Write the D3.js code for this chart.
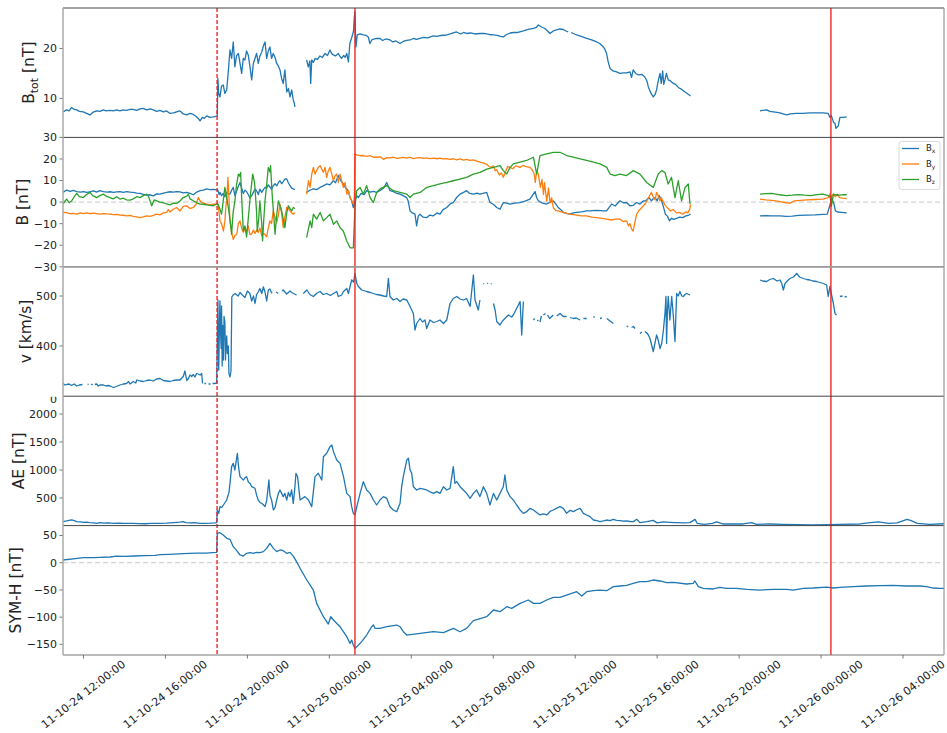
<!DOCTYPE html>
<html>
<head>
<meta charset="utf-8">
<script src="https://cdn.jsdelivr.net/npm/d3@7"></script>
<style>
  body { margin: 0; background: #fff; }
  text { font-family: "DejaVu Sans", sans-serif; fill: #222; }
</style>
</head>
<body>
<svg id="chart" width="947" height="733"></svg>
<script>
// Solar wind and geomagnetic indices, 2011-10-24 11:00 UT to 2011-10-26 06:00 UT.
// Times are hours since 2011-10-24 00:00 UT; null marks a data gap.

const btot = [[11.00,7.3],[11.18,7.7],[11.30,7.5],[11.42,8.2],[11.55,7.8],[11.67,7.7],[11.80,7.4],[11.99,7.3],[12.15,7.0],[12.32,6.7],[12.45,7.2],[12.64,7.5],[12.80,7.4],[12.97,7.7],[13.10,7.5],[13.29,7.6],[13.46,7.5],[13.60,7.7],[13.78,7.5],[13.94,7.7],[14.10,7.6],[14.27,7.8],[14.43,7.8],[14.60,7.6],[14.76,7.9],[14.92,8.0],[15.08,7.7],[15.25,7.9],[15.41,7.7],[15.57,7.4],[15.73,7.6],[15.90,7.3],[16.06,7.5],[16.22,7.0],[16.38,7.1],[16.55,7.3],[16.71,7.5],[16.87,6.9],[17.04,6.7],[17.20,7.0],[17.36,6.8],[17.50,6.4],[17.60,6.0],[17.69,5.5],[17.80,6.2],[17.90,6.0],[18.01,6.5],[18.17,6.2],[18.34,6.3],[18.45,6.4],[18.53,6.5],
  [18.56,14.0],[18.60,11.0],[18.66,10.3],[18.74,12.5],[18.82,12.7],[18.90,11.0],[18.99,11.7],[19.07,15.5],[19.15,19.7],[19.23,18.0],[19.31,21.3],[19.39,16.3],[19.47,18.5],[19.56,19.0],[19.64,17.0],[19.72,15.0],[19.80,18.0],[19.88,17.7],[19.96,19.5],[20.04,18.7],[20.12,16.5],[20.21,13.7],[20.29,17.0],[20.37,18.0],[20.45,19.0],[20.53,17.0],[20.61,18.5],[20.70,19.3],[20.78,20.5],[20.86,21.3],[20.94,18.0],[21.02,19.5],[21.10,20.3],[21.18,18.0],[21.26,19.0],[21.35,18.2],[21.43,17.0],[21.51,16.5],[21.59,15.7],[21.67,14.0],[21.75,13.0],[21.83,15.7],[21.92,11.3],[22.00,12.0],[22.08,10.3],[22.16,11.7],[22.24,9.7],[22.28,9.2],[22.32,8.3],[22.34,null],
  [22.89,17.7],[22.97,16.3],[23.05,17.5],[23.09,13.0],[23.14,17.7],[23.22,17.2],[23.30,18.0],[23.42,17.8],[23.54,18.5],[23.66,18.2],[23.79,19.0],[23.91,18.6],[24.03,19.7],[24.11,19.0],[24.19,18.7],[24.30,18.5],[24.44,19.0],[24.52,18.4],[24.60,18.0],[24.70,18.6],[24.77,18.2],[24.85,19.0],[24.93,17.3],[25.00,21.0],[25.10,22.3],[25.18,23.5],[25.22,26.3],[25.25,27.3],[25.28,22.0],[25.30,20.3],[25.36,22.7],[25.50,22.9],[25.66,22.7],[25.80,22.6],[25.90,22.3],[25.98,21.0],[26.07,21.7],[26.20,21.9],[26.31,22.0],[26.47,22.0],[26.60,21.6],[26.75,21.9],[26.96,21.7],[27.10,21.3],[27.25,21.5],[27.45,21.0],[27.60,21.4],[27.77,21.6],[27.94,21.7],[28.10,22.0],[28.25,21.8],[28.42,22.0],[28.60,22.2],[28.80,22.1],[29.07,22.5],[29.25,22.4],[29.45,22.6],[29.72,22.7],[29.90,22.9],[30.05,23.1],[30.21,23.3],[30.40,22.9],[30.55,23.2],[30.70,23.0],[30.90,23.1],[31.10,22.9],[31.35,23.0],[31.55,23.0],[31.80,22.8],[32.00,22.7],[32.20,22.6],[32.35,22.4],[32.49,22.3],[32.65,22.8],[32.82,23.1],[33.00,23.2],[33.20,23.2],[33.47,23.5],[33.70,23.8],[33.96,24.0],[34.10,24.2],[34.20,24.7],[34.35,24.3],[34.52,24.0],[34.65,23.5],[34.77,23.0],[34.93,23.5],[35.09,23.7],[35.25,23.9],[35.42,23.8],[35.55,23.5],[35.66,23.3],[35.72,null],
  [35.80,23.2],[36.07,22.7],[36.30,22.4],[36.56,22.0],[36.80,21.7],[37.05,21.3],[37.20,21.0],[37.37,20.3],[37.45,19.8],[37.53,19.0],[37.60,17.5],[37.70,16.0],[37.85,15.5],[38.02,15.3],[38.18,15.0],[38.35,15.1],[38.51,15.1],[38.67,15.3],[38.75,14.2],[38.83,15.7],[38.95,15.0],[39.08,14.7],[39.25,14.8],[39.40,14.3],[39.50,13.5],[39.57,12.3],[39.70,11.0],[39.81,10.3],[39.90,10.8],[39.97,11.7],[40.05,13.5],[40.14,15.0],[40.20,13.0],[40.27,15.5],[40.32,12.8],[40.38,13.7],[40.45,15.0],[40.54,13.7],[40.65,13.5],[40.79,13.0],[40.90,12.8],[41.03,12.2],[41.20,11.8],[41.36,11.3],[41.50,10.9],[41.63,10.5],[41.65,null],
  [45.02,7.5],[45.15,7.6],[45.34,7.7],[45.50,7.4],[45.67,7.3],[45.85,7.2],[45.99,7.1],[46.15,6.9],[46.32,6.7],[46.50,6.9],[46.81,7.0],[47.10,7.0],[47.46,7.1],[47.80,7.1],[48.11,7.1],[48.35,7.0],[48.43,6.2],[48.50,6.6],[48.60,5.3],[48.68,5.0],[48.73,4.0],[48.84,4.5],[48.92,6.2],[49.09,6.2],[49.25,6.3]];

const bx = [[11.00,4.5],[11.18,5.6],[11.35,5.0],[11.50,5.4],[11.67,4.9],[11.85,4.6],[12.00,4.9],[12.16,4.5],[12.35,4.8],[12.50,5.2],[12.64,4.6],[12.80,5.3],[12.97,4.9],[13.15,4.6],[13.30,4.8],[13.46,4.5],[13.62,4.7],[13.78,4.9],[13.95,4.5],[14.11,4.9],[14.27,4.6],[14.43,4.5],[14.60,4.2],[14.76,4.0],[14.92,3.6],[15.08,3.2],[15.25,3.4],[15.41,2.9],[15.57,3.8],[15.73,3.7],[15.90,4.2],[16.06,4.5],[16.22,4.8],[16.38,4.6],[16.55,4.9],[16.71,4.7],[16.87,4.3],[17.04,4.5],[17.20,4.0],[17.36,3.4],[17.50,4.5],[17.69,5.3],[17.85,5.6],[18.01,6.1],[18.17,5.8],[18.34,5.9],[18.50,5.7],
  [18.56,5.5],[18.62,3.5],[18.66,4.5],[18.74,3.0],[18.82,4.0],[18.90,2.5],[18.99,4.5],[19.07,3.7],[19.15,3.7],[19.23,5.5],[19.31,6.8],[19.39,3.0],[19.47,5.0],[19.56,7.5],[19.64,9.1],[19.72,6.5],[19.80,4.0],[19.88,5.5],[19.96,4.9],[20.04,3.5],[20.12,2.0],[20.21,2.9],[20.29,4.5],[20.37,6.0],[20.45,5.3],[20.53,3.5],[20.61,6.0],[20.70,4.5],[20.78,5.8],[20.86,6.8],[20.94,6.5],[21.02,8.0],[21.10,7.0],[21.18,6.0],[21.26,7.6],[21.35,8.5],[21.43,7.5],[21.51,9.0],[21.59,9.9],[21.67,8.5],[21.75,9.5],[21.83,10.7],[21.92,10.7],[22.00,9.0],[22.08,7.6],[22.16,6.5],[22.24,6.1],[22.32,5.8],[22.34,null],
  [22.89,4.5],[23.05,5.5],[23.22,6.1],[23.38,5.8],[23.54,6.8],[23.70,7.5],[23.87,8.4],[24.03,8.0],[24.19,9.9],[24.30,9.0],[24.44,12.3],[24.56,10.0],[24.68,8.4],[24.80,6.5],[24.93,5.3],[25.01,2.0],[25.09,0.6],[25.17,-2.5],[25.25,0.6],[25.33,3.0],[25.41,2.1],[25.55,4.0],[25.70,3.5],[25.82,5.3],[26.00,4.6],[26.15,5.0],[26.31,4.5],[26.50,5.5],[26.65,6.5],[26.80,9.1],[26.96,5.3],[27.10,5.0],[27.25,4.2],[27.45,3.7],[27.60,3.0],[27.77,2.1],[27.85,0.5],[27.94,-4.1],[28.05,-5.0],[28.18,-5.6],[28.26,-11.0],[28.34,-6.5],[28.42,-5.6],[28.58,-7.0],[28.75,-7.2],[28.90,-6.0],[29.07,-6.4],[29.25,-5.0],[29.40,-5.6],[29.55,-3.5],[29.73,-2.5],[29.90,-0.8],[30.05,-0.2],[30.20,2.0],[30.38,3.7],[30.55,4.5],[30.70,5.3],[30.85,4.0],[31.03,3.7],[31.20,4.2],[31.35,3.7],[31.50,4.0],[31.68,4.5],[31.84,-0.2],[32.00,-1.0],[32.17,-2.5],[32.33,-3.3],[32.49,-0.2],[32.65,-0.5],[32.82,-0.9],[33.05,-0.5],[33.30,-0.2],[33.55,0.5],[33.79,1.4],[34.04,4.9],[34.12,2.0],[34.20,0.6],[34.40,-0.5],[34.61,-0.9],[34.77,0.0],[34.93,0.6],[35.05,-0.8],[35.17,-2.5],[35.30,-3.5],[35.42,-4.8],[35.58,-5.2],[35.74,-5.6],[35.90,-5.0],[36.07,-4.8],[36.30,-4.5],[36.56,-4.1],[36.80,-4.0],[37.05,-3.8],[37.30,-4.0],[37.53,-4.1],[37.78,-0.9],[37.95,-1.8],[38.18,0.6],[38.35,-0.3],[38.51,-0.2],[38.67,-1.7],[38.83,-1.5],[39.00,-0.2],[39.16,-0.9],[39.32,0.5],[39.45,0.6],[39.60,2.1],[39.72,0.6],[39.80,1.5],[39.90,2.1],[40.00,0.6],[40.10,3.0],[40.20,1.0],[40.30,-2.0],[40.40,-5.6],[40.50,-6.5],[40.60,-8.7],[40.70,-7.5],[40.79,-8.0],[40.95,-7.5],[41.10,-7.0],[41.25,-7.2],[41.40,-6.4],[41.55,-6.0],[41.63,-5.6],[41.65,null],
  [45.02,-6.4],[45.30,-6.3],[45.60,-6.4],[45.99,-6.4],[46.30,-6.6],[46.60,-6.5],[46.90,-6.2],[47.30,-6.0],[47.70,-5.9],[48.10,-5.7],[48.30,-5.6],[48.45,-0.9],[48.50,2.1],[48.55,1.0],[48.62,-0.5],[48.70,-4.1],[48.80,-4.6],[49.00,-4.8],[49.25,-5.0]];

const by = [[11.00,-4.8],[11.18,-4.9],[11.35,-5.4],[11.50,-5.2],[11.67,-5.6],[11.85,-5.0],[12.00,-5.3],[12.16,-5.0],[12.32,-5.4],[12.50,-5.1],[12.64,-5.3],[12.80,-5.6],[12.97,-5.3],[13.15,-5.5],[13.29,-5.6],[13.46,-5.8],[13.62,-5.7],[13.78,-6.0],[13.94,-6.1],[14.11,-6.4],[14.27,-6.2],[14.43,-6.6],[14.60,-6.9],[14.76,-7.2],[14.92,-6.9],[15.08,-6.4],[15.25,-6.6],[15.41,-6.2],[15.57,-5.6],[15.73,-5.9],[15.90,-5.0],[16.06,-4.8],[16.14,-3.5],[16.22,-4.6],[16.38,-3.3],[16.55,-2.5],[16.71,-4.1],[16.87,-2.0],[17.04,-1.7],[17.20,-3.0],[17.36,-2.5],[17.50,-1.0],[17.60,2.1],[17.70,0.5],[17.77,-0.2],[17.90,-0.5],[18.01,-0.9],[18.17,-1.3],[18.34,-1.0],[18.50,-0.9],
  [18.56,-0.9],[18.62,-5.0],[18.66,-8.7],[18.74,-10.0],[18.83,-13.4],[18.90,-9.0],[18.95,-2.0],[18.99,0.6],[19.05,11.5],[19.10,2.0],[19.15,-8.7],[19.23,-14.0],[19.31,-17.3],[19.39,-15.5],[19.48,-14.9],[19.56,-10.0],[19.64,-8.7],[19.72,-12.0],[19.80,-14.0],[19.88,-12.5],[19.96,-13.4],[20.04,-11.0],[20.12,-15.0],[20.20,-14.9],[20.29,-13.0],[20.37,-14.5],[20.45,-13.0],[20.53,-14.0],[20.61,-12.0],[20.70,-15.5],[20.78,-14.5],[20.86,-15.0],[20.94,-16.1],[21.02,-12.0],[21.10,-8.7],[21.18,-10.0],[21.26,-4.1],[21.35,-7.0],[21.43,-9.5],[21.51,-6.0],[21.59,-0.9],[21.67,-5.0],[21.75,-11.8],[21.83,-7.0],[21.92,-2.5],[22.00,-3.0],[22.08,-4.1],[22.16,-5.0],[22.24,-5.6],[22.32,-5.0],[22.34,null],
  [22.89,3.7],[22.98,9.9],[23.06,6.8],[23.14,13.0],[23.22,16.1],[23.30,13.0],[23.38,14.6],[23.46,16.1],[23.55,16.9],[23.63,15.3],[23.71,13.8],[23.79,16.1],[23.87,11.5],[23.95,14.6],[24.03,16.1],[24.12,13.0],[24.20,9.9],[24.28,12.3],[24.36,13.0],[24.44,9.1],[24.52,13.0],[24.60,9.9],[24.68,6.8],[24.77,9.1],[24.85,3.7],[24.93,5.3],[25.01,2.1],[25.09,0.6],[25.17,-0.9],[25.22,2.1],[25.25,22.4],
  [25.35,21.8],[25.50,21.5],[25.66,21.6],[25.82,21.2],[26.00,21.5],[26.15,20.8],[26.31,20.8],[26.50,21.0],[26.65,19.8],[26.80,20.6],[26.96,20.5],[27.15,20.8],[27.30,20.3],[27.45,20.5],[27.60,20.7],[27.77,20.4],[27.94,20.8],[28.10,20.2],[28.26,20.5],[28.42,20.6],[28.60,20.3],[28.75,20.5],[28.90,20.2],[29.07,20.4],[29.25,20.1],[29.40,20.4],[29.55,20.0],[29.73,20.2],[29.90,19.8],[30.05,20.1],[30.21,19.6],[30.38,20.0],[30.55,19.5],[30.70,19.8],[30.85,19.3],[31.03,19.6],[31.20,19.0],[31.35,18.5],[31.50,18.2],[31.68,17.5],[31.80,16.5],[31.90,16.1],[32.00,16.8],[32.10,14.5],[32.17,15.0],[32.30,12.5],[32.40,13.5],[32.49,11.5],[32.60,14.0],[32.70,16.5],[32.82,16.1],[32.95,15.5],[33.10,16.8],[33.30,16.1],[33.45,17.0],[33.60,16.5],[33.79,16.1],[33.90,15.0],[34.00,13.0],[34.05,9.1],[34.12,14.5],[34.20,13.0],[34.30,6.8],[34.38,10.5],[34.45,3.5],[34.50,9.0],[34.61,0.6],[34.70,6.5],[34.77,-0.5],[34.85,2.0],[34.93,-2.5],[35.05,-4.0],[35.17,-4.1],[35.30,-4.5],[35.42,-4.8],[35.58,-5.2],[35.74,-5.6],[35.90,-5.8],[36.07,-6.0],[36.30,-6.4],[36.56,-6.4],[36.80,-7.0],[37.05,-7.2],[37.30,-7.5],[37.53,-7.9],[37.78,-8.3],[37.95,-7.9],[38.18,-7.9],[38.35,-9.0],[38.51,-8.7],[38.60,-11.0],[38.67,-10.0],[38.75,-12.5],[38.83,-13.4],[38.90,-10.0],[39.00,-5.6],[39.10,-4.0],[39.25,-2.5],[39.40,-1.0],[39.50,0.6],[39.60,2.5],[39.72,4.5],[39.80,2.5],[39.90,1.0],[39.97,4.5],[40.05,3.0],[40.14,0.6],[40.20,2.1],[40.30,0.0],[40.40,-1.5],[40.54,-3.0],[40.65,-4.1],[40.79,-3.5],[40.95,-5.0],[41.10,-4.8],[41.25,-5.6],[41.40,-4.5],[41.50,-5.0],[41.60,-3.0],[41.63,-1.0],[41.65,null],
  [45.02,1.4],[45.30,1.0],[45.60,0.8],[45.99,0.2],[46.30,-0.3],[46.50,-0.5],[46.70,0.6],[47.00,0.8],[47.30,1.0],[47.70,1.2],[48.10,1.4],[48.35,2.1],[48.43,3.7],[48.50,2.1],[48.60,3.7],[48.70,2.5],[48.80,3.7],[48.90,2.1],[49.05,1.8],[49.25,1.6]];

const bz = [[11.00,-0.9],[11.10,0.5],[11.18,1.4],[11.30,-0.3],[11.42,0.5],[11.55,2.5],[11.67,4.0],[11.80,2.5],[11.99,2.1],[12.15,3.5],[12.32,4.5],[12.45,3.0],[12.64,2.1],[12.80,3.0],[12.97,3.7],[13.10,2.8],[13.29,2.1],[13.45,1.5],[13.62,2.5],[13.78,1.4],[13.94,1.8],[14.10,1.0],[14.27,0.9],[14.43,1.5],[14.60,2.5],[14.76,2.1],[14.92,3.0],[15.08,3.7],[15.18,2.5],[15.33,-1.7],[15.45,1.0],[15.57,0.6],[15.73,0.0],[15.90,-0.3],[16.06,-0.8],[16.22,-1.3],[16.38,-0.5],[16.55,-0.6],[16.71,0.5],[16.87,2.1],[17.04,2.8],[17.12,3.7],[17.20,1.5],[17.36,0.6],[17.52,-0.2],[17.69,-0.9],[17.85,-1.0],[18.01,-1.3],[18.17,-1.5],[18.34,-1.7],[18.50,-0.9],
  [18.56,-0.9],[18.65,-3.0],[18.74,-5.6],[18.82,0.5],[18.90,6.8],[18.99,2.0],[19.07,-2.5],[19.15,-8.0],[19.23,-14.9],[19.30,-5.0],[19.39,0.6],[19.47,8.0],[19.56,13.0],[19.63,12.0],[19.67,13.8],[19.72,2.0],[19.80,-13.4],[19.88,-11.0],[19.96,-16.1],[20.04,-8.0],[20.12,0.6],[20.20,8.0],[20.26,13.0],[20.33,10.0],[20.37,6.8],[20.45,-5.0],[20.48,-13.4],[20.55,-8.0],[20.61,0.6],[20.70,-10.0],[20.74,-18.0],[20.80,-8.0],[20.86,0.6],[20.94,8.0],[21.02,16.1],[21.10,14.0],[21.13,16.9],[21.20,5.0],[21.23,0.6],[21.30,-8.0],[21.35,-14.9],[21.43,-6.0],[21.51,0.6],[21.60,-2.0],[21.67,-4.1],[21.75,-8.0],[21.83,-11.8],[21.92,-5.0],[22.00,-1.7],[22.08,-3.0],[22.16,-4.1],[22.24,-2.5],[22.32,-3.0],[22.34,null],
  [22.89,-16.5],[23.06,-8.7],[23.14,-11.8],[23.22,-5.6],[23.38,-7.9],[23.55,-4.8],[23.71,-8.7],[23.87,-7.2],[24.03,-5.6],[24.20,-10.3],[24.36,-8.7],[24.52,-11.8],[24.68,-13.4],[24.85,-18.0],[25.01,-21.2],[25.17,-21.2],[25.25,-2.5],
  [25.33,5.3],[25.50,6.8],[25.66,3.7],[25.82,7.6],[25.99,2.1],[26.15,-0.2],[26.31,4.5],[26.47,6.1],[26.80,7.6],[27.12,5.3],[27.45,4.5],[27.78,3.7],[27.94,2.1],[28.10,3.7],[28.43,4.5],[28.75,6.8],[29.08,7.6],[29.40,8.4],[29.73,9.1],[30.05,9.9],[30.38,10.7],[30.70,11.5],[31.03,13.0],[31.36,13.8],[31.68,15.3],[32.01,16.1],[32.33,16.9],[32.49,14.6],[32.66,13.0],[32.82,16.1],[32.98,17.7],[33.31,18.5],[33.63,19.3],[33.96,20.8],[34.12,13.0],[34.28,21.6],[34.61,22.4],[34.93,23.1],[35.26,23.1],[35.58,21.6],[35.91,20.8],[36.24,20.0],[36.56,19.3],[36.89,18.5],[37.21,17.7],[37.54,16.1],[37.70,13.0],[37.94,12.3],
  [38.18,13.0],[38.51,12.3],[38.83,14.6],[39.16,13.0],[39.49,9.1],[39.81,6.8],[40.05,13.0],[40.22,14.6],[40.38,13.8],[40.54,8.4],[40.70,11.5],[40.87,2.1],[41.03,9.9],[41.19,0.6],[41.36,6.8],[41.52,8.4],[41.60,-0.9],[41.65,null],
  [45.02,3.7],[45.30,3.9],[45.60,4.0],[45.99,3.4],[46.30,3.0],[46.60,3.2],[46.90,3.5],[47.20,3.2],[47.50,3.0],[47.80,3.5],[48.10,3.7],[48.35,3.0],[48.45,2.1],[48.50,-2.0],[48.55,0.6],[48.60,3.7],[48.70,3.4],[48.90,3.2],[49.10,3.5],[49.25,3.4]];

const speed = [[11.00,325],[11.10,322],[11.18,323],[11.30,324],[11.42,321],[11.55,324],[11.67,320],[11.80,322],[11.95,323],[11.97,null],
  [12.20,324],[12.25,323],[12.26,null],[12.37,324],[12.45,322],[12.46,null],[12.55,323],[12.64,324],[12.72,320],[12.80,322],[12.97,322],[13.10,320],[13.20,321],[13.30,320],[13.46,317],[13.60,319],[13.78,322],[13.94,324],[14.10,325],[14.20,329],[14.27,324],[14.43,329],[14.55,326],[14.60,332],[14.76,330],[14.92,329],[15.08,331],[15.25,332],[15.41,330],[15.57,334],[15.73,335],[15.90,331],[16.06,330],[16.22,329],[16.38,331],[16.55,332],[16.71,332],[16.80,336],[16.87,339],[16.95,350],[17.04,331],[17.12,335],[17.20,342],[17.28,339],[17.36,343],[17.44,338],[17.52,345],[17.60,344],[17.69,342],[17.77,345],[17.81,325],[17.83,null],
  [17.90,325],[17.98,325],[17.99,null],[18.10,324],[18.20,324],[18.21,null],[18.30,325],[18.40,325],[18.50,326],
  [18.56,492],[18.60,352],[18.64,450],[18.66,490],[18.69,428],[18.72,395],[18.74,480],[18.77,360],[18.79,441],[18.83,372],[18.86,459],[18.90,448],[18.93,372],[18.96,410],[18.99,420],[19.02,385],[19.07,400],[19.10,345],[19.15,338],[19.20,350],[19.24,498],[19.30,502],[19.40,505],[19.55,500],[19.64,507],[19.75,502],[19.88,497],[20.00,510],[20.12,505],[20.21,490],[20.30,500],[20.37,485],[20.45,503],[20.53,508],[20.61,515],[20.70,505],[20.78,518],[20.86,508],[20.94,490],[21.02,512],[21.10,514],[21.20,505],[21.28,null],
  [21.40,508],[21.50,505],[21.51,null],[21.70,510],[21.75,512],[21.83,508],[21.92,504],[22.00,507],[22.08,510],[22.20,506],[22.30,504],[22.40,502],[22.50,null],
  [22.73,505],[22.90,512],[23.05,503],[23.22,499],[23.40,506],[23.55,509],[23.70,503],[23.87,505],[24.05,501],[24.20,505],[24.36,509],[24.44,499],[24.60,502],[24.69,509],[24.85,515],[24.93,505],[25.01,519],[25.09,532],[25.18,528],[25.25,545],[25.34,525],[25.42,519],[25.58,512],[25.82,509],[26.00,507],[26.15,505],[26.30,503],[26.47,502],[26.65,500],[26.80,499],[26.88,535],[26.96,499],[27.12,492],[27.29,495],[27.45,489],[27.60,494],[27.78,492],[27.94,479],[28.10,465],[28.18,432],[28.26,445],[28.43,455],[28.55,448],[28.67,452],[28.75,435],[28.91,452],[29.08,447],[29.24,449],[29.40,452],[29.57,445],[29.73,452],[29.89,485],[30.05,495],[30.22,499],[30.38,494],[30.54,492],[30.70,495],[30.87,479],[31.03,542],[31.11,492],[31.27,472],[31.35,492],[31.40,null],
  [31.52,525],[31.55,524],[31.56,null],[31.70,526],[31.75,525],[31.76,null],[31.88,525],[31.92,524],[31.93,null],
  [32.01,485],[32.09,472],[32.17,449],[32.33,442],[32.45,450],[32.57,455],[32.74,462],[32.90,458],[32.98,462],[33.14,475],[33.31,489],[33.39,422],[33.47,489],[33.50,null],
  [33.96,452],[34.02,455],[34.03,null],[34.15,450],[34.20,452],[34.21,null],[34.28,448],[34.35,460],[34.36,null],[34.45,462],[34.55,465],[34.56,null],[34.65,462],[34.75,455],[34.93,462],[34.94,null],[35.10,460],[35.26,465],[35.42,459],[35.58,459],[35.59,null],[35.75,457],[35.91,455],[36.05,456],[36.24,452],[36.25,null],[36.40,455],[36.56,455],[36.70,null],[36.89,459],[36.95,457],[36.96,null],[37.21,455],[37.30,456],[37.31,null],[37.54,455],[37.70,450],[37.86,445],[37.90,null],
  [38.51,439],[38.59,439],[38.60,null],[38.75,437],[38.84,439],[38.92,435],[38.93,null],[39.16,425],[39.25,428],[39.26,null],[39.40,429],[39.50,426],[39.57,422],[39.65,415],[39.73,402],[39.81,389],[39.89,405],[39.97,422],[40.05,412],[40.14,395],[40.22,405],[40.30,430],[40.38,465],[40.43,499],[40.46,405],[40.50,470],[40.54,499],[40.62,452],[40.71,499],[40.79,459],[40.87,409],[40.95,505],[41.03,500],[41.11,509],[41.20,500],[41.28,499],[41.36,503],[41.44,505],[41.60,502],[41.65,null],
  [45.02,532],[45.15,530],[45.34,529],[45.50,533],[45.67,535],[45.85,530],[45.99,532],[46.08,525],[46.16,512],[46.24,525],[46.35,530],[46.48,535],[46.65,538],[46.81,545],[46.95,538],[47.13,535],[47.30,533],[47.46,532],[47.60,530],[47.78,529],[47.95,527],[48.11,525],[48.27,522],[48.35,499],[48.43,519],[48.50,505],[48.60,485],[48.68,465],[48.76,462],[48.80,null],
  [48.92,499],[49.05,500],[49.10,null],[49.15,499],[49.25,498]];

const ae = [[11.00,78],[11.18,90],[11.30,100],[11.42,110],[11.55,95],[11.67,78],[11.85,72],[12.00,65],[12.15,70],[12.30,60],[12.50,55],[12.64,48],[12.80,62],[12.97,50],[13.20,55],[13.46,48],[13.70,50],[14.00,45],[14.43,48],[14.70,42],[15.00,40],[15.30,45],[15.70,48],[16.06,50],[16.40,60],[16.70,68],[16.87,78],[17.00,60],[17.20,55],[17.40,60],[17.69,48],[17.90,45],[18.20,50],[18.40,55],[18.50,60],
  [18.53,286],[18.56,250],[18.60,226],[18.66,345],[18.75,330],[18.83,375],[18.99,464],[19.10,600],[19.15,762],[19.23,1060],[19.31,1119],[19.39,1000],[19.45,1150],[19.51,1298],[19.57,1050],[19.64,881],[19.72,850],[19.80,822],[19.88,860],[19.96,881],[20.05,780],[20.13,762],[20.21,702],[20.29,690],[20.37,673],[20.45,550],[20.53,464],[20.61,420],[20.70,405],[20.78,380],[20.86,345],[20.94,450],[21.00,650],[21.05,822],[21.10,550],[21.18,464],[21.27,286],[21.35,330],[21.43,464],[21.51,583],[21.59,643],[21.67,583],[21.75,524],[21.83,583],[21.92,464],[22.00,600],[22.08,524],[22.16,643],[22.24,405],[22.32,700],[22.37,941],[22.45,881],
  [22.57,464],[22.81,524],[22.98,464],[23.14,345],[23.30,881],[23.46,941],[23.63,822],[23.71,1238],[23.87,1298],[24.03,1417],[24.12,1447],[24.20,1328],[24.36,1179],[24.52,1119],[24.69,881],[24.85,583],[25.01,524],[25.09,345],[25.17,226],[25.25,197],[25.34,345],[25.50,583],[25.66,792],[25.82,643],[25.99,583],[26.15,464],[26.31,375],[26.47,464],[26.64,524],[26.80,494],[26.96,345],[27.12,286],[27.29,256],[27.45,405],[27.53,702],[27.61,881],[27.78,1179],[27.86,1209],[27.94,1000],[28.02,941],[28.10,702],[28.26,643],[28.43,673],[28.60,660],[28.75,643],[28.92,610],[29.08,583],[29.24,613],[29.40,583],[29.57,702],[29.73,643],[29.89,673],[30.05,1060],[30.13,762],[30.22,792],[30.38,702],[30.54,643],[30.70,583],[30.87,494],[31.03,583],[31.19,643],[31.35,524],[31.52,702],[31.68,583],[31.84,375],[32.01,583],[32.17,464],[32.33,583],[32.49,702],[32.57,911],[32.66,643],[32.82,524],[32.98,464],[33.14,375],[33.31,286],[33.47,226],[33.63,256],[33.80,316],[33.96,286],[34.12,240],[34.28,197],[34.45,215],[34.61,197],[34.77,260],[34.93,286],[35.10,320],[35.26,345],[35.42,316],[35.58,226],[35.75,280],[35.91,256],[36.07,290],[36.24,316],[36.40,226],[36.56,197],[36.72,167],[36.89,107],[37.05,95],[37.21,78],[37.38,90],[37.54,107],[37.70,95],[37.86,119],[38.02,100],[38.19,95],[38.35,85],[38.51,90],[38.67,80],[38.84,78],[39.00,119],[39.16,60],[39.50,78],[39.80,100],[40.00,55],[40.30,72],[40.60,66],[40.90,60],[41.30,55],[41.60,60],[41.85,119],[41.95,48],[42.30,30],[42.70,48],[42.90,72],[43.20,36],[43.70,36],[44.20,36],[44.60,60],[44.85,30],[45.50,36],[46.10,30],[46.90,24],[47.60,18],[48.30,24],[48.90,30],[49.90,36],[50.40,60],[50.80,72],[51.30,48],[51.70,55],[52.20,119],[52.40,95],[52.70,48],[53.30,30],[54.00,40]];

const symh = [[11.00,5.0],[11.50,7.0],[11.99,9.3],[12.50,9.5],[12.80,9.9],[13.30,10.5],[13.60,12.0],[14.00,11.5],[14.50,12.3],[15.00,13.0],[15.50,13.5],[15.73,14.8],[16.20,15.5],[16.87,16.6],[17.50,17.5],[18.00,17.8],[18.30,18.5],[18.50,19.1],
  [18.53,54.0],[18.66,55.2],[18.82,50.9],[18.99,44.8],[19.15,43.0],[19.31,29.5],[19.48,22.1],[19.64,14.2],[19.80,12.3],[19.96,17.2],[20.13,18.5],[20.29,17.2],[20.45,19.1],[20.61,18.5],[20.78,20.3],[20.94,26.4],[21.10,35.6],[21.27,26.4],[21.43,20.3],[21.59,23.4],[21.75,22.1],[21.92,17.2],[22.08,19.1],[22.24,12.0],[22.40,1.9],
  [22.57,-10.3],[22.90,-31.8],[23.22,-50.2],[23.38,-74.7],[23.71,-99.2],[23.95,-112.7],[24.07,-99.2],[24.20,-105.3],[24.52,-117.6],[24.85,-135.9],[25.01,-148.2],[25.09,-142.1],[25.17,-151.3],[25.25,-157.4],[25.42,-151.3],[25.58,-145.1],[25.82,-132.9],[26.07,-117.6],[26.15,-114.5],[26.23,-120.6],[26.47,-120.6],[26.80,-117.6],[27.29,-114.5],[27.45,-117.6],[27.61,-126.8],[27.78,-132.9],[28.43,-129.8],[29.08,-126.8],[29.57,-128.6],[30.05,-120.6],[30.38,-126.8],[30.70,-120.6],[31.03,-106.5],[31.68,-99.2],[32.01,-86.9],[32.33,-90.0],[32.66,-80.8],[32.90,-83.9],[33.31,-74.7],[33.71,-68.5],[33.96,-74.7],[34.28,-74.7],[34.61,-68.5],[34.93,-63.6],[35.26,-63.6],[35.58,-59.4],[36.07,-53.2],[36.32,-61.2],[36.56,-53.2],[36.89,-51.4],[37.21,-50.2],[37.54,-51.4],[37.86,-44.0],[38.19,-42.8],[38.51,-41.6],[38.83,-37.9],[39.16,-34.8],[39.49,-34.8],[39.81,-31.8],[40.14,-33.6],[40.46,-36.7],[40.79,-36.1],[41.44,-39.1],[41.76,-37.9],[41.84,-33.6],[42.01,-44.0],[42.25,-47.1],[42.74,-48.3],[43.06,-45.3],[43.39,-47.1],[43.88,-47.1],[44.37,-48.9],[45.02,-50.2],[45.67,-48.9],[46.32,-48.9],[46.64,-50.2],[47.13,-47.1],[47.62,-46.5],[48.27,-44.7],[48.60,-46.5],[48.92,-45.3],[49.57,-44.0],[50.22,-42.8],[50.87,-42.2],[51.52,-41.6],[52.17,-42.8],[52.83,-42.8],[53.15,-44.0],[53.48,-46.5],[53.80,-47.1],[54.00,-47.1]];

// Event markers (hours): shock arrival, SYM-H minimum, later discontinuity
const eventHours = [18.52, 25.25, 48.48];

// Axis ticks
const btotTicks = [10, 20];
const bTicks = [-30, -20, -10, 0, 10, 20, 30];
const vTicks = [400, 500];
const aeTicks = [500, 1000, 1500, 2000];
const symTicks = [-150, -100, -50, 0, 50];

const T0 = Date.UTC(2011, 9, 24);
const toDate = h => new Date(T0 + h * 3600e3);

const svg = d3.select("#chart");
const L = 63, R = 944, TOP = 8, PH = 129.4;
const blue = "#1f77b4", orange = "#ff7f0e", green = "#2ca02c";

const x = d3.scaleUtc().domain([toDate(11), toDate(54)]).range([L, R]);

const panels = [
  { series: [{ data: btot, color: blue }], domain: [2.2, 28.1], ticks: btotTicks, label: "btot", labelX: 29 },
  { series: [{ data: bx, color: blue }, { data: by, color: orange }, { data: bz, color: green }], domain: [-30, 30], ticks: bTicks, label: "B [nT]", labelX: 22.5, zero: true },
  { series: [{ data: speed, color: blue }], domain: [299.6, 558.4], ticks: vTicks, label: "v [km/s]", labelX: 26 },
  { series: [{ data: ae, color: blue }], domain: [7, 2318], ticks: aeTicks, label: "AE [nT]", labelX: 19 },
  { series: [{ data: symh, color: blue }], domain: [-169.6, 68.2], ticks: symTicks, label: "SYM-H [nT]", labelX: 16, zero: true }
];

const fmtNum = v => (v < 0 ? "\u2212" + Math.abs(v) : String(v));

panels.forEach((p, i) => {
  const y0 = TOP + i * PH, y1 = y0 + PH;
  const y = d3.scaleLinear().domain(p.domain).range([y1, y0]);
  const g = svg.append("g");

  const clipId = "clip" + i;
  svg.append("clipPath").attr("id", clipId)
    .append("rect").attr("x", L).attr("y", y0).attr("width", R - L).attr("height", PH);

  if (p.zero) {
    g.append("line").attr("x1", L).attr("x2", R).attr("y1", y(0)).attr("y2", y(0))
      .attr("stroke", "#c8c8c8").attr("stroke-width", 1).attr("stroke-dasharray", "5,3");
  }

  const line = d3.line()
    .defined(d => d[1] != null)
    .x(d => x(toDate(d[0])))
    .y(d => y(d[1]));

  const lg = g.append("g").attr("clip-path", `url(#${clipId})`);
  p.series.forEach(s => {
    lg.append("path").datum(s.data).attr("d", line)
      .attr("fill", "none").attr("stroke", s.color).attr("stroke-width", 1.3)
      .attr("stroke-linejoin", "round");
  });

  // y axis ticks and labels
  p.ticks.forEach(t => {
    const ty = y(t);
    g.append("line").attr("x1", L - 3.5).attr("x2", L).attr("y1", ty).attr("y2", ty)
      .attr("stroke", "#555").attr("stroke-width", 0.8);
    g.append("text").attr("x", L - 6).attr("y", ty).attr("dy", "0.35em")
      .attr("text-anchor", "end").attr("font-size", 11).text(fmtNum(t));
  });

  // y axis title
  const cy = (y0 + y1) / 2;
  const lab = g.append("text").attr("transform", `translate(${p.labelX},${cy}) rotate(-90)`)
    .attr("text-anchor", "middle").attr("dy", "0.35em").attr("font-size", 15.5);
  if (p.label === "btot") {
    lab.append("tspan").text("B");
    lab.append("tspan").attr("font-size", 11).attr("dy", 4).text("tot");
    lab.append("tspan").attr("dy", -4).text(" [nT]");
  } else {
    lab.text(p.label);
  }
});

// partly hidden tick label at the foot of the speed panel
svg.append("clipPath").attr("id", "footClip")
  .append("rect").attr("x", 40).attr("y", TOP + 3 * PH + 0.5).attr("width", 22).attr("height", 10);
svg.append("text").attr("clip-path", "url(#footClip)")
  .attr("x", L - 6).attr("y", TOP + 3 * PH + 2.5).attr("dy", "0.35em")
  .attr("text-anchor", "end").attr("font-size", 11).text("0");

// event markers spanning all panels
eventHours.forEach((h, i) => {
  svg.append("line").attr("x1", x(toDate(h))).attr("x2", x(toDate(h)))
    .attr("y1", TOP).attr("y2", TOP + 5 * PH)
    .attr("stroke", "#ee2020").attr("stroke-opacity", 0.9).attr("stroke-width", 1.5)
    .attr("stroke-dasharray", i === 0 ? "4,2" : null);
});

// frame: separators and spines
const sepColors = ["#444", "#444", "#999", "#444", "#444", "#777"];
const sepWidths = [1, 1, 1.8, 1, 1, 1.2];
d3.range(6).forEach(k => {
  svg.append("line").attr("x1", L).attr("x2", R)
    .attr("y1", TOP + k * PH).attr("y2", TOP + k * PH)
    .attr("stroke", sepColors[k]).attr("stroke-width", sepWidths[k]);
});
svg.append("line").attr("x1", L).attr("x2", L).attr("y1", TOP).attr("y2", TOP + 5 * PH)
  .attr("stroke", "#aaa").attr("stroke-width", 1.5);
svg.append("line").attr("x1", R).attr("x2", R).attr("y1", TOP).attr("y2", TOP + 5 * PH)
  .attr("stroke", "#999").attr("stroke-width", 1.2);

// x axis: rotated date labels centred under each tick
const xBase = TOP + 5 * PH;
const fmtTime = d3.utcFormat("%y-%m-%d %H:%M:%S");
const ANG = 38, rad = ANG * Math.PI / 180, labH = 11;
x.ticks(d3.utcHour.every(4)).forEach(t => {
  const tx = x(t);
  svg.append("line").attr("x1", tx).attr("x2", tx).attr("y1", xBase).attr("y2", xBase + 3.5)
    .attr("stroke", "#555").attr("stroke-width", 0.8);
  const txt = svg.append("text").attr("font-size", 11)
    .attr("text-anchor", "middle").attr("dominant-baseline", "central").text(fmtTime(t));
  const len = txt.node().getComputedTextLength();
  const halfH = (len * Math.sin(rad) + labH * Math.cos(rad)) / 2;
  txt.attr("transform", `translate(${tx},${xBase + 3.5 + halfH}) rotate(${-ANG})`);
});

// legend for the field components
const leg = svg.append("g");
leg.append("rect").attr("x", 899).attr("y", 141.5).attr("width", 41).attr("height", 48)
  .attr("rx", 2.5).attr("fill", "#fff").attr("fill-opacity", 0.8)
  .attr("stroke", "#d9d9d9").attr("stroke-width", 1);
[["x", blue], ["y", orange], ["z", green]].forEach(([c, col], k) => {
  const ly = 148.5 + k * 15.5;
  leg.append("line").attr("x1", 902).attr("x2", 919).attr("y1", ly).attr("y2", ly)
    .attr("stroke", col).attr("stroke-width", 1.3);
  const t = leg.append("text").attr("x", 926).attr("y", ly).attr("dy", "0.35em").attr("font-size", 8.5);
  t.append("tspan").text("B");
  t.append("tspan").attr("font-size", 6).attr("dy", 2).text(c);
});
</script>
</body>
</html>
